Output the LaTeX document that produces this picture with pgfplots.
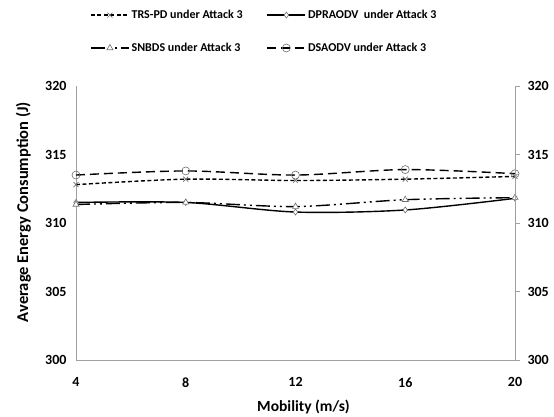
\documentclass[border=0pt]{standalone}
\usepackage{fontspec}
\setmainfont{Carlito}
\usepackage{pgfplots}
\pgfplotsset{compat=1.18}

\definecolor{axisgray}{RGB}{160,160,160}
\definecolor{markgray}{RGB}{110,110,110}

\begin{document}
\begin{tikzpicture}
\useasboundingbox (-76pt,-57pt) rectangle (478pt,360pt);
\begin{axis}[
    scale only axis,
    width=439pt, height=274pt,
    xmin=4, xmax=20, ymin=300, ymax=320,
    xtick={4,8,12,16,20},
    ytick={300,305,310,315,320},
    axis x line*=bottom,
    axis y line*=left,
    axis line style={axisgray, line width=0.8pt},
    major tick length=0pt,
    tick style={draw=none},
    xticklabel style={font=\fontsize{14}{14}\selectfont\bfseries, yshift=-14pt},
    yticklabel style={font=\fontsize{14}{14}\selectfont\bfseries, xshift=-6pt},
    /pgf/number format/assume math mode=true,
    xlabel={Mobility (m/s)},
    ylabel={Average Energy Consumption (J)},
    xlabel style={font=\fontsize{15.5}{15.5}\selectfont\bfseries, yshift=-6pt, xshift=8pt},
    ylabel style={font=\fontsize{16.5}{16.5}\selectfont\bfseries,
        at={(axis description cs:-0.12,0.54)}, anchor=center},
    legend columns=2,
    legend style={draw=none, fill=none, at={(0.032,1.285)}, anchor=north west,
        inner xsep=0pt, inner ysep=0pt,
        font=\fontsize{12}{12}\selectfont\bfseries,
        /tikz/every even column/.append style={column sep=22pt},
        row sep=19pt},
    legend cell align=left,
    legend image code/.code={
        \draw[#1, sharp plot] (0pt,0pt) -- (38pt,0pt);
        \draw[#1, only marks] plot coordinates {(19pt,0pt)};
    },
    every axis plot/.append style={line width=1.4pt, black, smooth,
        mark options={solid, draw=markgray, fill=white, line width=0.6pt}},
]
\addplot[dash pattern=on 4pt off 2.5pt, mark=x, mark size=3.5pt]
    coordinates {(4,312.8) (8,313.2) (12,313.1) (16,313.2) (20,313.4)};
\addlegendentry{TRS-PD under Attack 3}
\addplot[solid, mark=diamond*, mark size=3pt]
    coordinates {(4,311.5) (8,311.5) (12,310.8) (16,310.95) (20,311.8)};
\addlegendentry{DPRAODV\ \ under Attack 3}
\addplot[dash pattern=on 14pt off 4pt on 2pt off 4pt on 2pt off 4pt, mark=triangle*, mark size=3.5pt]
    coordinates {(4,311.35) (8,311.5) (12,311.2) (16,311.7) (20,311.85)};
\addlegendentry{SNBDS under Attack 3}
\addplot[dash pattern=on 9pt off 5pt, mark=o, mark size=4pt]
    coordinates {(4,313.5) (8,313.8) (12,313.5) (16,313.9) (20,313.6)};
\addlegendentry{DSAODV under Attack 3}
\end{axis}
\begin{axis}[
    scale only axis,
    width=439pt, height=274pt,
    xmin=4, xmax=20, ymin=300, ymax=320,
    axis x line=none,
    axis y line*=right,
    axis line style={axisgray, line width=0.8pt},
    ytick={300,305,310,315,320},
    tick align=outside,
    major tick length=5pt,
    tick style={axisgray, line width=0.8pt},
    yticklabel style={font=\fontsize{14}{14}\selectfont\bfseries, xshift=4pt},
    /pgf/number format/assume math mode=true,
]
\end{axis}
\end{tikzpicture}
\end{document}
